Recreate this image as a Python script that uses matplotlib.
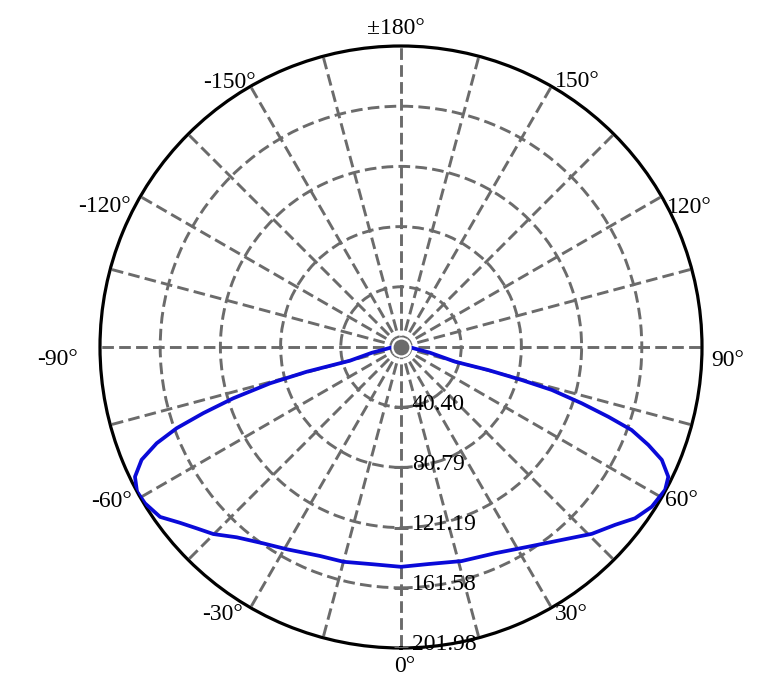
import numpy as np
import matplotlib
matplotlib.use("Agg")
import matplotlib.pyplot as plt

plt.rcParams["font.family"] = ["Liberation Serif", "DejaVu Serif"]

# intensity distribution (deg, value), traced left -> right
angles_deg = [-90, -82.7, -78.8, -75.0, -75.3, -74.5, -73.0, -71.5, -70.1, -68.5,
              -66.5, -64.0, -61.3, -58.6, -54.8, -51.5, -48.4, -45.1, -40.8,
              -35.0, -29.5, -21.2, -15.0, -7.3, 0.0,
              7.2, 15.8, 24.5, 32.5, 39.8, 45.6, 50.3, 53.8, 57.5, 61.6,
              64.1, 66.6, 68.4, 70.2, 71.4, 72.7, 74.1, 74.7, 75.2, 74.8,
              78.8, 82.7, 90]
intensity = [5.4, 10.0, 20.0, 35.4, 65.4, 91.2, 117.7, 139.9, 160.1, 176.2,
             189.8, 198.6, 201.98, 201.3, 197.8, 189.5, 183.3, 177.8, 168.7,
             160.9, 155.9, 150.4, 149.2, 147.0, 147.5,
             146.8, 149.3, 152.1, 158.9, 168.5, 179.2, 186.8, 194.6, 199.5, 201.5,
             199.4, 190.7, 178.5, 164.5, 146.8, 127.0, 105.2, 84.0, 60.6, 37.6,
             20.0, 10.0, 5.4]

r_max = 201.98
ring_values = [40.40, 80.79, 121.19, 161.58, 201.98]
ring_labels = ["40.40", "80.79", "121.19", "161.58", "201.98"]

label_angles = [0, 30, 60, 90, 120, 150, 180, -150, -120, -90, -60, -30]
label_texts = ["0°", "30°", "60°", "90°", "120°", "150°", "±180°",
               "-150°", "-120°", "-90°", "-60°", "-30°"]
# pixel offsets of each label centre from the rim point
label_offsets = [(4, -19), (20, -7), (20, -3), (26, -13), (28, -11), (26, 5),
                 (-5, 18), (-21, 4), (-36, -10), (-42, -13), (-29, -4), (-28, -7)]

grid_color = "#6b6b6b"

fig = plt.figure(figsize=(7.79, 6.97), dpi=100)
ax = fig.add_axes([100 / 779, 49 / 697, 602 / 779, 602 / 697], projection="polar")
ax.set_theta_zero_location("S")
ax.set_theta_direction(1)
ax.set_rlim(0, r_max)

ax.set_thetagrids(np.arange(0, 360, 15), labels=[])
ax.set_rgrids(ring_values[:-1], labels=[])
ax.grid(True, color=grid_color, linestyle=(0, (4, 1.8)), linewidth=2.1)
ax.spines["polar"].set_color("black")
ax.spines["polar"].set_linewidth(2.3)
ax.tick_params(length=0)

theta = np.deg2rad(angles_deg)
ax.plot(theta, intensity, color="#0a0ad8", lw=2.7, zorder=4,
        solid_joinstyle="round", solid_capstyle="round")

# centre dot
ax.plot([0], [0], "o", ms=13, color=grid_color, mec="white", mew=1.6, zorder=5)

# little ticks on the 0° spoke
ax.plot([0] * len(ring_values), ring_values, ls="none", marker="_", ms=9.5,
        mew=2.1, color=grid_color, zorder=3)

for val, txt in zip(ring_values, ring_labels):
    ax.annotate(txt, xy=(0, val), xytext=(11, 3), textcoords="offset pixels",
                ha="left", va="center", fontsize=17, annotation_clip=False, zorder=6)

for a, txt, off in zip(label_angles, label_texts, label_offsets):
    ax.annotate(txt, xy=(np.deg2rad(a), r_max), xytext=off, textcoords="offset pixels",
                ha="center", va="center", fontsize=17, annotation_clip=False)

fig.savefig("out.png", dpi=100)
